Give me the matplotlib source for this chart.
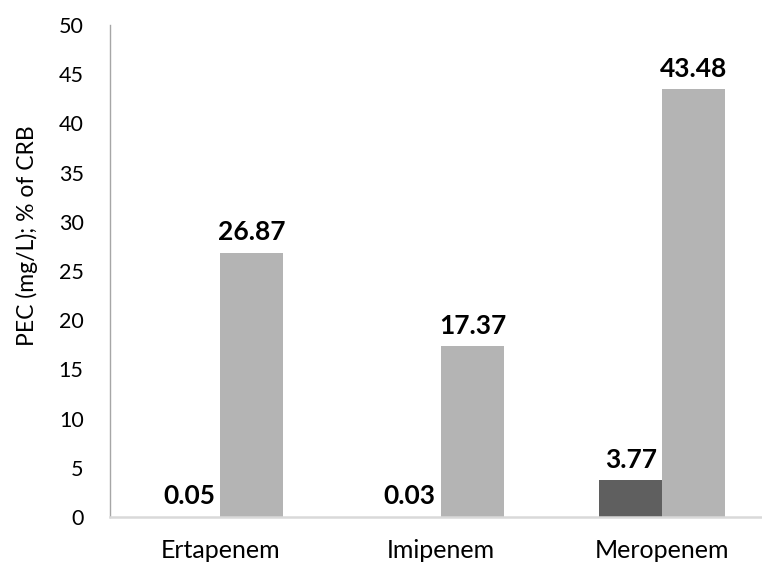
import matplotlib
matplotlib.use("Agg")
import matplotlib.pyplot as plt
import numpy as np

plt.rcParams['font.family'] = ['Lato', 'DejaVu Sans']

categories = ["Ertapenem", "Imipenem", "Meropenem"]
pec_values = [0.05, 0.03, 3.77]
crb_values = [26.87, 17.37, 43.48]
y_ticks = [0, 5, 10, 15, 20, 25, 30, 35, 40, 45, 50]

dark_color = "#5f5f5f"
light_color = "#b4b4b4"

fig = plt.figure(figsize=(7.62, 5.65), dpi=100)
ax = fig.add_axes([110 / 762, 48 / 565, 662.5 / 762, 492 / 565])

x = np.arange(len(categories))
w = 0.285

bars_pec = ax.bar(x - w / 2, pec_values, width=w, color=dark_color)
bars_crb = ax.bar(x + w / 2, crb_values, width=w, color=light_color)

for bars, vals in ((bars_pec, pec_values), (bars_crb, crb_values)):
    for b, v in zip(bars, vals):
        ax.annotate(f"{v:.2f}", (b.get_x() + b.get_width() / 2, v),
                    xytext=(0, 6), textcoords="offset points",
                    ha="center", va="bottom", fontsize=19, fontweight="bold",
                    color="black")

ax.set_xlim(-0.5, 2.5)
ax.set_ylim(0, 50)
ax.set_yticks(y_ticks)
ax.set_xticks(x)
ax.set_xticklabels(categories)
ax.tick_params(axis="both", length=0, colors="black")
ax.tick_params(axis="y", pad=19, labelsize=15.5)
ax.tick_params(axis="x", pad=16, labelsize=18)

for side in ("top", "right"):
    ax.spines[side].set_visible(False)
ax.spines["left"].set_color("#a6a6a6")
ax.spines["left"].set_linewidth(1.0)
ax.spines["bottom"].set_color("#d9d9d9")
ax.spines["bottom"].set_linewidth(1.8)

ax.set_ylabel("PEC (mg/L); % of CRB", fontsize=16.5)
ax.yaxis.set_label_coords(-72 / 662.5, (517 - 236) / 492)

fig.savefig("out.png", dpi=100)
